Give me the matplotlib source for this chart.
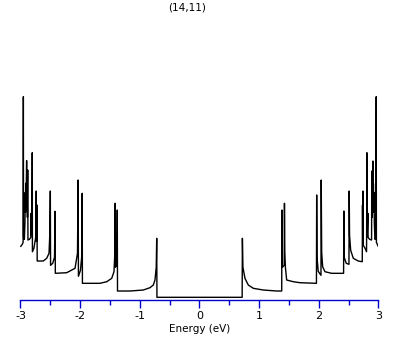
import numpy as np
from matplotlib import pyplot as plt

plt.rcParams['axes.unicode_minus'] = False
plt.rcParams['font.family'] = ['DejaVu Sans']

# density of states (energy in eV, dos in arbitrary units)
# valence side (E < 0)
e_neg = [-2.995, -2.970, -2.956, -2.952, -2.949, -2.935, -2.925, -2.920, -2.916, -2.911,
         -2.907, -2.897, -2.893, -2.888, -2.884, -2.879, -2.875, -2.850, -2.826, -2.822,
         -2.817, -2.808, -2.803, -2.800, -2.775, -2.745, -2.736, -2.732, -2.724, -2.720,
         -2.618, -2.561, -2.522, -2.508, -2.500, -2.496, -2.460, -2.430, -2.420, -2.416,
         -2.226, -2.086, -2.045, -2.033, -2.029, -1.995, -1.975, -1.966, -1.962, -1.668,
         -1.555, -1.471, -1.433, -1.418, -1.413, -1.409, -1.385, -1.378, -1.374, -1.165,
         -0.942, -0.830, -0.774, -0.746, -0.725, -0.717, -0.713]
dos_neg = [0.51, 0.53, 0.55, 2.006, 0.60, 0.58, 0.75, 1.05, 0.85, 1.14,
           0.95, 1.367, 0.90, 1.10, 0.80, 1.273, 0.573, 0.58, 0.60, 0.84,
           0.62, 0.70, 1.446, 0.456, 0.49, 0.60, 1.063, 0.56, 0.923, 0.363,
           0.363, 0.39, 0.44, 0.64, 1.063, 0.32, 0.34, 0.40, 0.86, 0.24,
           0.246, 0.29, 0.44, 1.173, 0.21, 0.27, 0.40, 1.04, 0.14, 0.14,
           0.156, 0.19, 0.256, 0.45, 0.94, 0.30, 0.32, 0.873, 0.063, 0.063,
           0.073, 0.096, 0.123, 0.173, 0.30, 0.59, 0.0]

# conduction side (E > 0)
e_pos = [0.715, 0.719, 0.728, 0.762, 0.818, 0.902, 1.069, 1.294, 1.378, 1.382,
         1.389, 1.420, 1.424, 1.430, 1.440, 1.461, 1.572, 1.684, 1.936, 1.960,
         1.964, 1.970, 1.990, 2.036, 2.040, 2.048, 2.064, 2.103, 2.215, 2.415,
         2.420, 2.425, 2.460, 2.505, 2.509, 2.515, 2.534, 2.578, 2.661, 2.728,
         2.732, 2.736, 2.740, 2.746, 2.775, 2.800, 2.806, 2.810, 2.822, 2.826,
         2.850, 2.884, 2.888, 2.892, 2.897, 2.901, 2.906, 2.911, 2.915, 2.920,
         2.925, 2.930, 2.940, 2.955, 2.962, 2.965, 2.980, 2.995]
dos_pos = [0.0, 0.59, 0.30, 0.19, 0.123, 0.09, 0.073, 0.063, 0.063, 0.873,
           0.30, 0.32, 0.94, 0.45, 0.30, 0.173, 0.156, 0.146, 0.14, 0.14,
           1.023, 0.40, 0.26, 0.22, 1.173, 0.45, 0.306, 0.256, 0.24, 0.24,
           0.863, 0.40, 0.34, 0.33, 1.063, 0.62, 0.47, 0.39, 0.363, 0.356,
           0.923, 0.56, 1.063, 0.52, 0.49, 0.456, 1.446, 0.60, 0.84, 0.60,
           0.58, 0.573, 1.263, 0.80, 1.10, 0.90, 1.363, 0.95, 1.14, 0.85,
           1.05, 0.75, 0.58, 0.60, 2.006, 0.55, 0.53, 0.51]

energy = np.array(e_neg + e_pos)
dos = np.array(dos_neg + dos_pos)

fig = plt.figure(figsize=(4.09, 3.45), dpi=100)
ax = fig.add_axes([0.0501, 0.1304, 0.8753, 0.6087])

ax.plot(energy, dos, color='black', lw=1.0)
ax.set_xlim(-3, 3)
ax.set_ylim(-0.027, 2.073)

# only the blue energy axis is shown
for side in ['left', 'right', 'top']:
    ax.spines[side].set_visible(False)
ax.spines['bottom'].set_color('#0000cc')
ax.spines['bottom'].set_linewidth(1.0)
ax.set_yticks([])
ax.set_xticks(np.arange(-3, 4, 1))
ax.set_xticks(np.arange(-2.5, 3, 1), minor=True)
ax.tick_params(axis='x', which='major', length=5.8, width=1, color='#0000cc',
               labelsize=8, pad=2)
ax.tick_params(axis='x', which='minor', length=3.6, width=1, color='#0000cc')
ax.set_xlabel('Energy (eV)', fontsize=7.5, labelpad=2)

fig.text(187 / 409, 1 - 7 / 345, '(14,11)', ha='center', va='center', fontsize=7.5)

plt.savefig('out.png', dpi=100)
